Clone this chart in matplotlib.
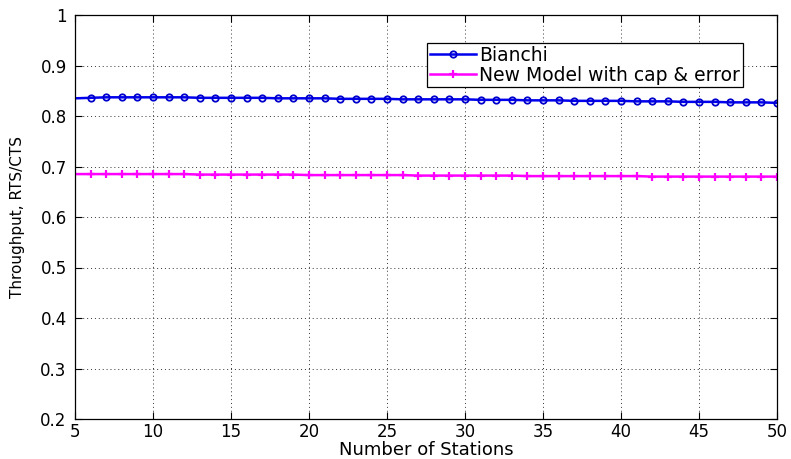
import matplotlib
matplotlib.use("Agg")
import matplotlib.pyplot as plt
import numpy as np

stations = list(range(5, 51))
bianchi = [0.835, 0.836, 0.837, 0.837, 0.837, 0.837, 0.837, 0.837, 0.836, 0.836,
           0.836, 0.836, 0.836, 0.835, 0.835, 0.835, 0.835, 0.834, 0.834, 0.834,
           0.834, 0.833, 0.833, 0.833, 0.833, 0.833, 0.832, 0.832, 0.832, 0.831,
           0.831, 0.831, 0.830, 0.830, 0.830, 0.830, 0.829, 0.829, 0.829, 0.828,
           0.828, 0.828, 0.827, 0.827, 0.827, 0.826]
new_model = [0.685, 0.685, 0.685, 0.685, 0.685, 0.685, 0.685, 0.685, 0.684, 0.684,
             0.684, 0.684, 0.684, 0.684, 0.684, 0.683, 0.683, 0.683, 0.683, 0.683,
             0.683, 0.683, 0.682, 0.682, 0.682, 0.682, 0.682, 0.682, 0.682, 0.681,
             0.681, 0.681, 0.681, 0.681, 0.681, 0.681, 0.681, 0.680, 0.680, 0.680,
             0.680, 0.680, 0.680, 0.680, 0.680, 0.680]
xticks = [5, 10, 15, 20, 25, 30, 35, 40, 45, 50]
yticks = [0.2, 0.3, 0.4, 0.5, 0.6, 0.7, 0.8, 0.9, 1.0]
ytick_labels = ["0.2", "0.3", "0.4", "0.5", "0.6", "0.7", "0.8", "0.9", "1"]

plt.rcParams['font.family'] = ['DejaVu Sans']

fig = plt.figure(figsize=(7.91, 4.59), dpi=100)
ax = fig.add_axes([75/791, 1 - 419/459, (777-75)/791, (419-15)/459])

ax.plot(stations, bianchi, color='#0000ee', lw=1.8, marker='o', ms=4.6,
        mfc='none', mec='#0000cc', mew=1.3, markevery=list(range(1, len(stations))),
        label='Bianchi')
ax.plot(stations, new_model, color='#ff00ff', lw=1.8, marker='+', ms=6,
        mew=1.6, markevery=list(range(1, len(stations))),
        label='New Model with cap & error')

ax.set_xlim(5, 50)
ax.set_ylim(0.2, 1.0)
ax.set_xticks(xticks)
ax.set_yticks(yticks)
ax.set_yticklabels(ytick_labels)
ax.tick_params(direction='in', length=5, width=0.8, top=True, right=True,
               labelsize=12, colors='black', pad=6)
ax.tick_params(axis='x', pad=3)
ax.grid(True, linestyle=(0, (1, 3)), color='#333333', linewidth=0.7)
for s in ax.spines.values():
    s.set_linewidth(0.9)

ax.set_xlabel('Number of Stations', fontsize=13, labelpad=0)
ax.set_ylabel('Throughput, RTS/CTS', fontsize=11, labelpad=11)

leg = ax.legend(loc='upper left', bbox_to_anchor=(0.501, 0.931), fontsize=13.5,
                frameon=True, fancybox=False, edgecolor='black', framealpha=1,
                handlelength=2.5, handletextpad=0.15, borderpad=0.15,
                labelspacing=0.05, borderaxespad=0)
leg.get_frame().set_linewidth(0.9)

fig.savefig('out.png', dpi=100)
